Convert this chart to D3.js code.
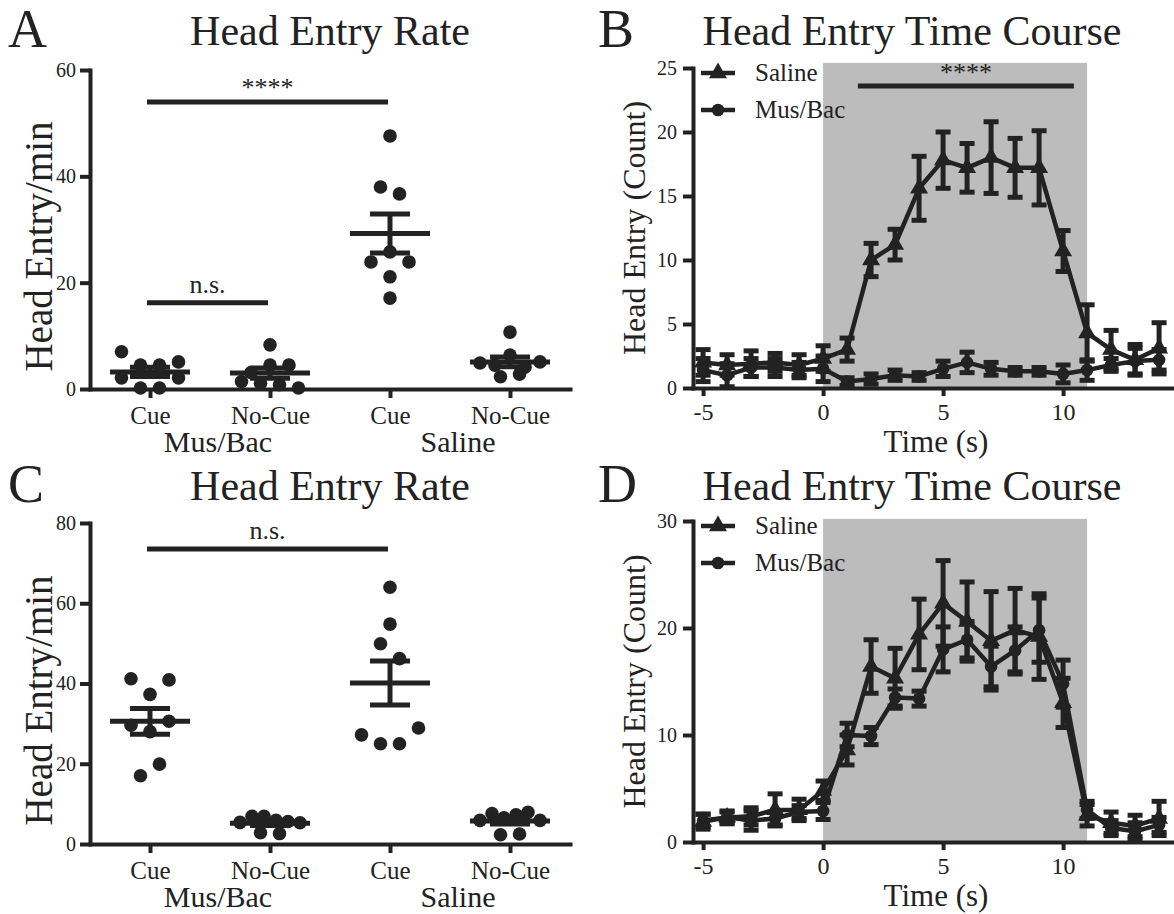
<!DOCTYPE html>
<html>
<head>
<meta charset="utf-8">
<script src="https://cdn.jsdelivr.net/npm/d3@7"></script>
<style>
  body { margin: 0; background: #fff; }
  svg { display: block; }
  svg text { font-family: "Liberation Serif", "Times New Roman", Tinos, serif; }
</style>
</head>
<body>
<div id="chart"></div>
<script>
// categories for the rate plots (A, C)
const catKeys = ["mb_cue", "mb_nocue", "sal_cue", "sal_nocue"];
const catLabels = ["Cue", "No-Cue", "Cue", "No-Cue"];
const groupLabels = ["Mus/Bac", "Saline"];

// panel A - head entries per min, one value per rat
const rateA_mbCue = [7.0, 4.5, 4.5, 5.1, 2.1, 0.2, 0.2, 2.1];
const rateA_mbNoCue = [8.3, 3.1, 4.5, 4.5, 1.4, 1.1, 0.8, 0.2];
const rateA_salCue = [47.6, 38.0, 36.7, 23.9, 25.8, 23.9, 21.1, 17.1];
const rateA_salNoCue = [10.7, 4.9, 4.5, 6.4, 4.1, 5.1, 2.3, 2.8];

// panel C
const rateC_mbCue = [41.2, 37.3, 40.9, 29.6, 28.0, 30.6, 17.0, 19.9];
const rateC_mbNoCue = [5.4, 6.9, 6.9, 5.9, 5.6, 5.3, 2.8, 2.6];
const rateC_salCue = [64.0, 54.8, 49.9, 46.2, 27.2, 25.0, 25.0, 28.9];
const rateC_salNoCue = [5.9, 7.6, 6.5, 7.3, 7.9, 5.9, 2.3, 2.5];

// time course (B, D): seconds around cue onset
const timeSteps = [-5, -4, -3, -2, -1, 0, 1, 2, 3, 4, 5, 6, 7, 8, 9, 10, 11, 12, 13, 14];
const timeTicks = [-5, 0, 5, 10];
const cueWindow = [0, 11];

const courseB_salMean = [2.0, 1.8, 1.9, 2.0, 1.8, 2.3, 3.0, 10.0, 11.2, 15.6, 17.8, 17.2, 18.0, 17.2, 17.2, 10.7, 4.3, 3.0, 2.2, 3.1];
const courseB_salSem = [1.0, 0.8, 1.0, 0.7, 0.8, 1.0, 0.9, 1.3, 1.2, 2.5, 2.2, 1.9, 2.8, 2.3, 2.9, 1.6, 2.2, 1.5, 1.2, 2.0];
const courseB_mbMean = [1.4, 1.0, 1.6, 1.6, 1.4, 1.5, 0.5, 0.7, 1.0, 0.9, 1.5, 2.0, 1.5, 1.3, 1.3, 1.1, 1.4, 1.8, 2.1, 2.2];
const courseB_mbSem = [0.9, 0.9, 0.7, 0.7, 0.6, 1.0, 0.3, 0.4, 0.4, 0.3, 0.6, 0.8, 0.5, 0.3, 0.3, 0.7, 0.8, 0.5, 1.0, 0.8];

const courseD_salMean = [1.9, 2.3, 2.4, 3.0, 3.0, 4.8, 8.6, 16.4, 15.3, 19.4, 22.3, 20.6, 18.8, 19.8, 19.2, 13.0, 2.5, 1.8, 1.5, 2.2];
const courseD_salSem = [0.7, 0.6, 0.8, 1.5, 1.0, 0.9, 1.4, 2.5, 2.8, 3.3, 4.0, 3.7, 4.6, 3.9, 4.0, 2.3, 1.0, 1.0, 1.0, 1.6];
const courseD_mbMean = [2.0, 2.3, 2.0, 2.2, 2.8, 2.9, 10.0, 9.9, 13.5, 13.4, 18.0, 18.9, 16.4, 17.9, 19.8, 14.8, 3.0, 1.3, 1.0, 1.6];
const courseD_mbSem = [0.6, 0.5, 0.9, 0.6, 0.6, 0.8, 1.1, 0.8, 0.8, 0.7, 2.1, 1.7, 1.9, 2.2, 3.0, 2.2, 0.8, 0.7, 0.8, 0.7];

const ink = "#222";

const svg = d3.select("#chart").append("svg")
    .attr("width", 1174)
    .attr("height", 914);

function styleAxis(g, fontSize) {
    g.attr("font-size", fontSize);
    g.select(".domain").attr("stroke", ink).attr("stroke-width", 4).attr("stroke-linecap", "square");
    g.selectAll(".tick line").attr("stroke", ink).attr("stroke-width", 4);
    g.selectAll(".tick text").attr("fill", ink);
}

function heading(letter, title, letterX, titleX, baseY) {
    svg.append("text").attr("x", letterX).attr("y", baseY + 2)
        .attr("font-size", 54).attr("fill", ink).text(letter);
    svg.append("text").attr("x", titleX).attr("y", baseY)
        .attr("text-anchor", "middle").attr("font-size", 42).attr("fill", ink).text(title);
}

// Prism-like scatter: dots with close values share a row, spread out side by side
function rowSwarm(values, y, cx) {
    const thr = 16, step = 19, maxHalf = 30;
    const order = d3.range(values.length).sort((a, b) => values[b] - values[a] || a - b);
    const rows = [];
    order.forEach(i => {
        const row = rows[rows.length - 1];
        if (row && y(values[i]) - y(values[row[0]]) < thr) row.push(i);
        else rows.push([i]);
    });
    const out = [];
    rows.forEach(row => {
        row.sort((a, b) => a - b);
        const n = row.length;
        const s = n > 1 ? Math.min(step, 2 * maxHalf / (n - 1)) : 0;
        row.forEach((i, k) => out.push({ x: cx + (k - (n - 1) / 2) * s, y: y(values[i]) }));
    });
    return out;
}

function drawRate(opts) {
    const g = svg.append("g");
    const x = d3.scalePoint().domain(catKeys).range([90, 570]).padding(0.5);
    const y = d3.scaleLinear().domain([0, opts.yMax]).range(opts.yRange);

    g.append("g").attr("transform", "translate(0," + y(0) + ")")
        .call(d3.axisBottom(x).tickSize(9).tickSizeOuter(0).tickPadding(8)
            .tickFormat((d, i) => catLabels[i]))
        .call(a => styleAxis(a, 25));
    g.append("g").attr("transform", "translate(" + x.range()[0] + ",0)")
        .call(d3.axisLeft(y).tickValues(opts.yTicks).tickSize(10).tickSizeOuter(0).tickPadding(4)
            .tickFormat(d => String(d)))
        .call(a => styleAxis(a, 20));

    // group names under the category labels
    [[0, 1], [2, 3]].forEach((pair, gi) => {
        g.append("text")
            .attr("x", (x(catKeys[pair[0]]) + x(catKeys[pair[1]])) / 2 + 8)
            .attr("y", y(0) + 63)
            .attr("text-anchor", "middle").attr("font-size", 30).attr("fill", ink)
            .text(groupLabels[gi]);
    });

    g.append("text")
        .attr("transform", "translate(" + opts.yLabelX + "," + ((y(opts.yMax) + y(0)) / 2 + 17) + ") rotate(-90)")
        .attr("text-anchor", "middle").attr("font-size", 39).attr("fill", ink)
        .text("Head Entry/min");

    opts.groups.forEach((vals, ci) => {
        const cx = x(catKeys[ci]);
        g.append("g").selectAll("circle")
            .data(rowSwarm(vals, y, cx))
            .enter().append("circle")
                .attr("cx", d => d.x).attr("cy", d => d.y).attr("r", 6.8)
                .attr("fill", ink);
        const m = d3.mean(vals);
        const sem = d3.deviation(vals) / Math.sqrt(vals.length);
        const bars = g.append("g").attr("stroke", ink).attr("stroke-width", 5);
        bars.append("line").attr("x1", cx - 40).attr("x2", cx + 40).attr("y1", y(m)).attr("y2", y(m));
        bars.append("line").attr("x1", cx).attr("x2", cx).attr("y1", y(m - sem)).attr("y2", y(m + sem));
        [m - sem, m + sem].forEach(v => bars.append("line")
            .attr("x1", cx - 20).attr("x2", cx + 20).attr("y1", y(v)).attr("y2", y(v)));
    });

    opts.sigs.forEach(s => {
        const x1 = x(s.from) - 3, x2 = x(s.to) - 2;
        g.append("line").attr("x1", x1).attr("x2", x2).attr("y1", y(s.y)).attr("y2", y(s.y))
            .attr("stroke", ink).attr("stroke-width", 5);
        g.append("text").attr("x", (x1 + x2) / 2).attr("y", y(s.y) - (s.label === "n.s." ? 10 : 6))
            .attr("text-anchor", "middle").attr("font-size", 26).attr("fill", ink).text(s.label);
    });
}

function drawCourse(opts) {
    const g = svg.append("g");
    const x = d3.scaleLinear().domain([-5.42, 14.58]).range([693, 1173]);
    const y = d3.scaleLinear().domain([0, opts.yMax]).range(opts.yRange);

    g.append("rect")
        .attr("x", x(cueWindow[0])).attr("width", x(cueWindow[1]) - x(cueWindow[0]))
        .attr("y", y(opts.shadeTop)).attr("height", y(0) - y(opts.shadeTop))
        .attr("fill", "#bcbcbc");

    const line = d3.line().x(d => x(d.t)).y(d => y(d.m));
    const tri = d3.symbol().type(d3.symbolTriangle).size(140);
    const dot = d3.symbol().type(d3.symbolCircle).size(125);

    opts.series.forEach(s => {
        const pts = timeSteps.map((t, i) => ({ t: t, m: s.mean[i], e: s.sem[i] }));
        const sg = g.append("g");
        sg.append("path").datum(pts).attr("d", line)
            .attr("fill", "none").attr("stroke", ink).attr("stroke-width", 4.5).attr("stroke-linejoin", "round");
        const eb = sg.append("g").attr("stroke", ink).attr("stroke-width", 5);
        pts.forEach(p => {
            eb.append("line").attr("x1", x(p.t)).attr("x2", x(p.t)).attr("y1", y(p.m - p.e)).attr("y2", y(p.m + p.e));
            [p.m - p.e, p.m + p.e].forEach(v => eb.append("line")
                .attr("x1", x(p.t) - 7.5).attr("x2", x(p.t) + 7.5).attr("y1", y(v)).attr("y2", y(v)));
        });
        sg.selectAll("path.mark").data(pts).enter().append("path")
            .attr("class", "mark")
            .attr("transform", p => "translate(" + x(p.t) + "," + y(p.m) + ")")
            .attr("d", s.shape === "tri" ? tri : dot)
            .attr("fill", ink);
    });

    g.append("g").attr("transform", "translate(0," + y(0) + ")")
        .call(d3.axisBottom(x).tickValues(timeTicks).tickSize(8).tickSizeOuter(0).tickPadding(7)
            .tickFormat(d => String(d)))
        .call(a => styleAxis(a, 24));
    g.append("g").attr("transform", "translate(" + x.range()[0] + ",0)")
        .call(d3.axisLeft(y).tickValues(opts.yTicks).tickSize(10).tickSizeOuter(0).tickPadding(6)
            .tickFormat(d => String(d)))
        .call(a => styleAxis(a, 20));

    g.append("text").attr("x", (x.range()[0] + x.range()[1]) / 2 + 3).attr("y", y(0) + 64)
        .attr("text-anchor", "middle").attr("font-size", 31).attr("fill", ink).text("Time (s)");
    g.append("text")
        .attr("transform", "translate(" + 645 + "," + (y(opts.yMax) + y(0)) / 2 + ") rotate(-90)")
        .attr("text-anchor", "middle").attr("font-size", 32).attr("fill", ink)
        .text("Head Entry (Count)");

    // legend, top left of the plot
    opts.series.forEach((s, i) => {
        const ly = y(opts.yMax) + 5 + i * 37;
        const lx = x.range()[0] + 8;
        g.append("line").attr("x1", lx).attr("x2", lx + 34).attr("y1", ly).attr("y2", ly)
            .attr("stroke", ink).attr("stroke-width", 4.5);
        g.append("path").attr("transform", "translate(" + (lx + 17) + "," + ly + ")")
            .attr("d", s.shape === "tri" ? tri : dot).attr("fill", ink);
        g.append("text").attr("x", lx + 54).attr("y", ly + 8)
            .attr("font-size", 25).attr("fill", ink).text(s.name);
    });

    if (opts.sig) {
        const s = opts.sig;
        g.append("line").attr("x1", x(s.from)).attr("x2", x(s.to)).attr("y1", y(s.y)).attr("y2", y(s.y))
            .attr("stroke", ink).attr("stroke-width", 5);
        g.append("text").attr("x", (x(s.from) + x(s.to)) / 2).attr("y", y(s.y) - 5)
            .attr("text-anchor", "middle").attr("font-size", 26).attr("fill", ink).text(s.label);
    }
}

heading("A", "Head Entry Rate", 8, 330, 45);
heading("B", "Head Entry Time Course", 598, 912, 45);
heading("C", "Head Entry Rate", 8, 330, 500);
heading("D", "Head Entry Time Course", 598, 912, 500);

drawRate({
    yMax: 60, yTicks: [0, 20, 40, 60], yRange: [389, 70], yLabelX: 52,
    groups: [rateA_mbCue, rateA_mbNoCue, rateA_salCue, rateA_salNoCue],
    sigs: [
        { from: "mb_cue", to: "sal_cue", y: 54, label: "****" },
        { from: "mb_cue", to: "mb_nocue", y: 16.2, label: "n.s." }
    ]
});

drawRate({
    yMax: 80, yTicks: [0, 20, 40, 60, 80], yRange: [844, 523], yLabelX: 52,
    groups: [rateC_mbCue, rateC_mbNoCue, rateC_salCue, rateC_salNoCue],
    sigs: [{ from: "mb_cue", to: "sal_cue", y: 73.5, label: "n.s." }]
});

drawCourse({
    yMax: 25, yTicks: [0, 5, 10, 15, 20, 25], yRange: [388, 68], shadeTop: 25.4,
    series: [
        { name: "Saline", shape: "tri", mean: courseB_salMean, sem: courseB_salSem },
        { name: "Mus/Bac", shape: "dot", mean: courseB_mbMean, sem: courseB_mbSem }
    ],
    sig: { from: 1.45, to: 10.45, y: 23.6, label: "****" }
});

drawCourse({
    yMax: 30, yTicks: [0, 10, 20, 30], yRange: [842, 521], shadeTop: 30.2,
    series: [
        { name: "Saline", shape: "tri", mean: courseD_salMean, sem: courseD_salSem },
        { name: "Mus/Bac", shape: "dot", mean: courseD_mbMean, sem: courseD_mbSem }
    ]
});
</script>
</body>
</html>
